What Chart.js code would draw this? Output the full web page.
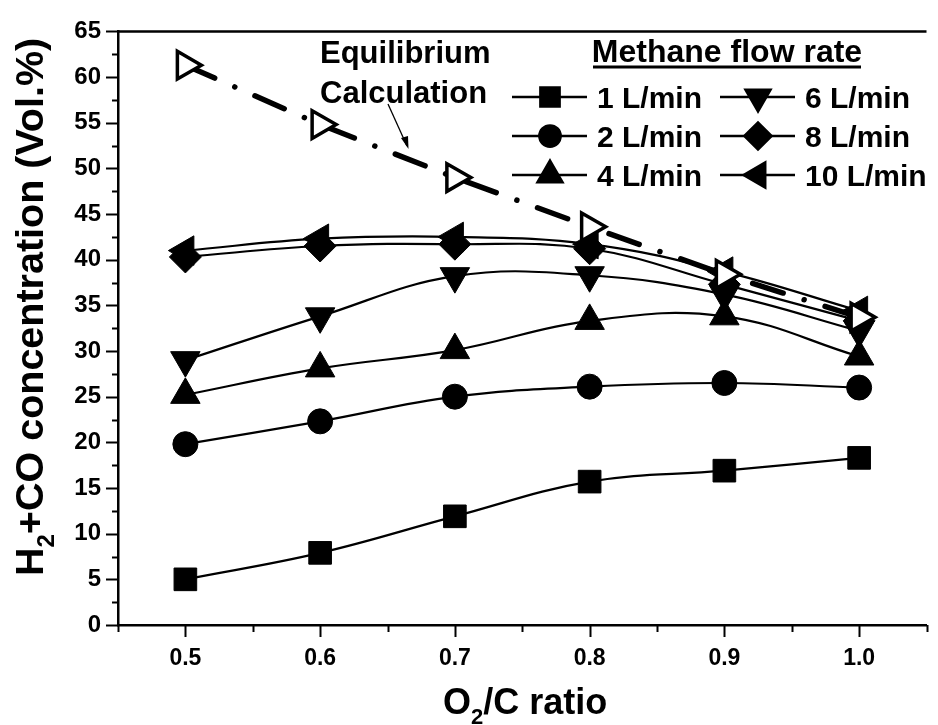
<!DOCTYPE html>
<html>
<head>
<meta charset="utf-8">
<script src="https://cdn.jsdelivr.net/npm/chart.js@4.4.1/dist/chart.umd.min.js"></script>
<style>
  html, body { margin: 0; padding: 0; background: #fff; overflow: hidden; }
  canvas { display: block; }
</style>
</head>
<body>
<canvas id="syngas" width="946" height="725"></canvas>
<script>
// O2/C ratio on the x axis
const ratios = [0.5, 0.6, 0.7, 0.8, 0.9, 1.0];

// H2+CO concentration (Vol.%) per methane flow rate
const flow1 = [5.0, 7.9, 11.9, 15.7, 16.9, 18.3];
const flow2 = [19.8, 22.3, 25.0, 26.1, 26.5, 26.0];
const flow4 = [25.2, 28.1, 30.1, 33.3, 33.8, 29.4];
const flow6 = [29.0, 33.8, 38.2, 38.3, 36.2, 32.2];
const flow8 = [40.3, 41.5, 41.7, 41.2, 37.3, 33.3];
const flow10 = [41.0, 42.3, 42.5, 41.7, 38.7, 34.4];
const equilibrium = [61.3, 54.8, 49.0, 43.6, 38.4, 33.7];

const xTicks = [0.5, 0.6, 0.7, 0.8, 0.9, 1.0];
const yTicks = [0, 5, 10, 15, 20, 25, 30, 35, 40, 45, 50, 55, 60, 65];

const FONT = "'Liberation Sans', Arial, sans-serif";
const pts = vals => vals.map((v, i) => ({ x: ratios[i], y: v }));

function series(label, vals, style, rotation, radius) {
  return {
    label, data: pts(vals), order: 1,
    borderColor: '#000', backgroundColor: '#000', borderWidth: 2.2, tension: 0.4,
    pointStyle: style, pointRotation: rotation, pointRadius: radius,
    pointBackgroundColor: '#000', pointBorderColor: '#000', pointBorderWidth: 1
  };
}

const flows = [
  series('1 L/min', flow1, 'rect', 0, 16),
  series('2 L/min', flow2, 'circle', 0, 12.5),
  series('4 L/min', flow4, 'triangle', 0, 17),
  series('6 L/min', flow6, 'triangle', 180, 17),
  series('8 L/min', flow8, 'rectRot', 0, 16),
  series('10 L/min', flow10, 'triangle', 270, 17)
];

const equilSet = {
  label: 'Equilibrium Calculation', data: pts(equilibrium), order: 0,
  borderColor: '#000', borderWidth: 5.5, borderDash: [32, 22, 0.01, 22], borderCapStyle: 'round',
  tension: 0, pointStyle: 'triangle', pointRotation: 90, pointRadius: 16,
  pointBackgroundColor: '#fff', pointBorderColor: '#000', pointBorderWidth: 3.5
};

function drawRich(ctx, parts, size, subSize, subDrop) {
  let x = 0;
  parts.forEach(p => {
    ctx.font = 'bold ' + (p.sub ? subSize : size) + 'px ' + FONT;
    ctx.fillText(p.t, x, p.sub ? subDrop : 0);
    x += ctx.measureText(p.t).width;
  });
}

const decorations = {
  id: 'decorations',
  afterDraw(chart) {
    const ctx = chart.ctx;
    const xs = chart.scales.x, ys = chart.scales.y, area = chart.chartArea;
    ctx.save();
    ctx.strokeStyle = '#000';
    ctx.fillStyle = '#000';

    // top frame line
    ctx.lineWidth = 2.5;
    ctx.beginPath();
    ctx.moveTo(area.left - 1, area.top);
    ctx.lineTo(area.right, area.top);
    ctx.stroke();

    // tick marks, major and minor, outward
    ctx.lineWidth = 2;
    for (let v = 0; v <= 65.001; v += 2.5) {
      const major = Math.abs(v / 5 - Math.round(v / 5)) < 1e-6;
      const py = Math.round(ys.getPixelForValue(v)) + 0.5;
      ctx.beginPath();
      ctx.moveTo(area.left, py);
      ctx.lineTo(area.left - (major ? 12 : 6), py);
      ctx.stroke();
    }
    for (let k = 9; k <= 21; k++) {
      const v = k * 0.05;
      const major = k % 2 === 0;
      const px = Math.round(xs.getPixelForValue(v)) + 0.5;
      ctx.beginPath();
      ctx.moveTo(px, area.bottom);
      ctx.lineTo(px, area.bottom + (major ? 12 : 7));
      ctx.stroke();
    }

    // axis titles with subscripts
    ctx.textBaseline = 'alphabetic';
    ctx.textAlign = 'left';
    ctx.save();
    ctx.translate(443, 714);
    drawRich(ctx, [{ t: 'O' }, { t: '2', sub: true }, { t: '/C ratio' }], 36, 22, 10);
    ctx.restore();

    ctx.save();
    ctx.translate(43, 576);
    ctx.rotate(-Math.PI / 2);
    drawRich(ctx, [{ t: 'H' }, { t: '2', sub: true }, { t: '+CO concentration (Vol.%)' }], 39.5, 24, 11);
    ctx.restore();

    // annotation for the equilibrium curve
    ctx.font = 'bold 31px ' + FONT;
    ctx.fillText('Equilibrium', 320, 63);
    ctx.fillText('Calculation', 320, 103);
    ctx.lineWidth = 1.3;
    ctx.beginPath();
    ctx.moveTo(388, 104);
    ctx.lineTo(407, 146);
    ctx.stroke();
    ctx.beginPath();
    ctx.moveTo(408.5, 149);
    ctx.lineTo(401, 138);
    ctx.lineTo(408, 136);
    ctx.closePath();
    ctx.fill();

    // legend
    ctx.font = 'bold 32px ' + FONT;
    ctx.textAlign = 'center';
    ctx.fillText('Methane flow rate', 727, 62);
    ctx.fillRect(593, 65.5, 268, 3);
    ctx.textAlign = 'left';
    ctx.font = 'bold 30px ' + FONT;
    flows.forEach((ds, i) => {
      const col = Math.floor(i / 3), row = i % 3;
      const mx = col === 0 ? 550 : 758;
      const my = 97 + row * 39;
      ctx.lineWidth = 2.5;
      ctx.beginPath();
      ctx.moveTo(mx - 38, my);
      ctx.lineTo(mx + 37, my);
      ctx.stroke();
      Chart.helpers.drawPoint(ctx, {
        pointStyle: ds.pointStyle, rotation: ds.pointRotation,
        radius: ds.pointRadius * 0.85, borderWidth: 1
      }, mx, my);
      ctx.fillText(ds.label, mx + 47, my + 11);
    });
    ctx.restore();
  }
};

new Chart(document.getElementById('syngas').getContext('2d'), {
  type: 'line',
  data: { datasets: [equilSet, ...flows] },
  options: {
    responsive: false,
    animation: false,
    layout: { padding: { top: 24, left: 0, right: 2, bottom: 0 } },
    plugins: { legend: { display: false }, tooltip: { enabled: false } },
    scales: {
      x: {
        type: 'linear', min: 0.45, max: 1.05,
        afterFit: s => { s.height = 100; },
        afterBuildTicks: s => { s.ticks = xTicks.map(v => ({ value: v })); },
        grid: { display: true, drawOnChartArea: false, drawTicks: false },
        border: { display: true, color: '#000', width: 2.5 },
        ticks: {
          padding: 20, color: '#000', maxRotation: 0,
          font: { family: FONT, size: 23, weight: 'bold' },
          callback: v => v.toFixed(1)
        }
      },
      y: {
        min: 0, max: 65,
        afterFit: s => { s.width = 118; },
        afterBuildTicks: s => { s.ticks = yTicks.map(v => ({ value: v })); },
        grid: { display: true, drawOnChartArea: false, drawTicks: false },
        border: { display: true, color: '#000', width: 2.5 },
        ticks: {
          padding: 17, color: '#000',
          font: { family: FONT, size: 24, weight: 'bold' }
        }
      }
    }
  },
  plugins: [decorations]
});
</script>
</body>
</html>
